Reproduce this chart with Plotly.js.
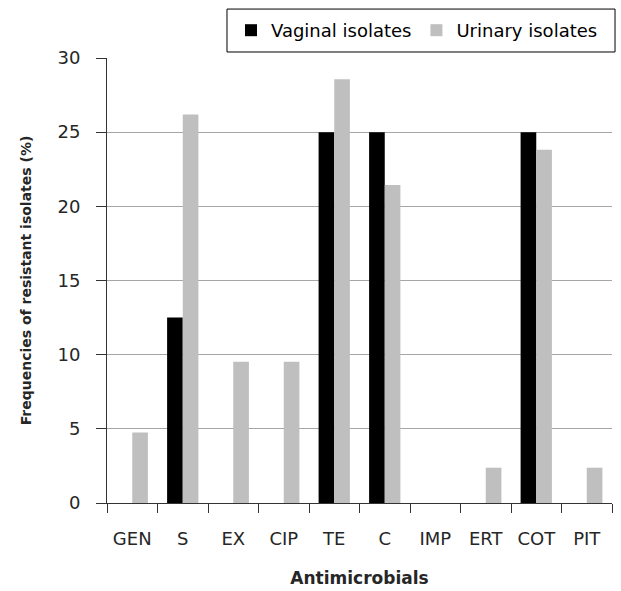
<!DOCTYPE html>
<html>
<head>
<meta charset="utf-8">
<script src="https://cdn.plot.ly/plotly-3.0.1.min.js"></script>
<style>html,body{margin:0;padding:0;background:#fff;}#chart{width:621px;height:591px;}</style>
</head>
<body>
<div id="chart"></div>
<script>
// Data
var antimicrobials = ["GEN", "S", "EX", "CIP", "TE", "C", "IMP", "ERT", "COT", "PIT"];
var vaginalIsolates = [0, 12.5, 0, 0, 25, 25, 0, 0, 25, 0];
var urinaryIsolates = [4.76, 26.19, 9.52, 9.52, 28.57, 21.43, 0, 2.38, 23.81, 2.38];
var yTicks = [0, 5, 10, 15, 20, 25, 30];

var font = "DejaVu Sans, Verdana, sans-serif";

var traces = [
  {type: "bar", name: "Vaginal isolates", x: antimicrobials, y: vaginalIsolates,
   marker: {color: "#000000"}},
  {type: "bar", name: "Urinary isolates", x: antimicrobials, y: urinaryIsolates,
   marker: {color: "#bfbfbf"}}
];

var layout = {
  width: 621, height: 591,
  margin: {l: 107, r: 9, t: 58, b: 88},
  paper_bgcolor: "#ffffff", plot_bgcolor: "#ffffff",
  barmode: "group", bargap: 0.38, bargroupgap: 0,
  font: {family: font, size: 16, color: "#262626"},
  xaxis: {
    type: "category",
    tickson: "boundaries",
    ticks: "outside", ticklen: 9, tickcolor: "#333333",
    showline: true, linecolor: "#333333", linewidth: 1,
    showgrid: false, zeroline: false,
    tickfont: {family: font, size: 18, color: "#262626"},
    ticklabelstandoff: 19,
    title: {text: "<b>Antimicrobials</b>", font: {family: font, size: 17, color: "#262626"}, standoff: 24}
  },
  yaxis: {
    range: [0, 30], tickvals: yTicks, ticktext: yTicks.map(String),
    ticks: "outside", ticklen: 10, tickcolor: "#333333",
    showline: true, linecolor: "#333333", linewidth: 1,
    showgrid: true, gridcolor: "#a6a6a6", gridwidth: 1,
    zeroline: false,
    tickfont: {family: font, size: 18, color: "#262626"},
    ticklabelstandoff: 12,
    title: {text: "<b>Frequencies of resistant isolates (%)</b>", font: {family: font, size: 14, color: "#262626"}, standoff: 22}
  },
  showlegend: true,
  legend: {
    orientation: "h", x: 0.2455, xanchor: "left", y: 1.0618, yanchor: "middle",
    font: {family: font, size: 18, color: "#000000"},
    bgcolor: "rgba(0,0,0,0)", borderwidth: 0, traceorder: "normal"
  },
  shapes: [{
    type: "rect", xref: "paper", yref: "paper",
    x0: 0.2376, x1: 1.006, y0: 1.0135, y1: 1.110,
    line: {color: "#000000", width: 1}, fillcolor: "rgba(0,0,0,0)"
  }]
};

Plotly.newPlot("chart", traces, layout, {displayModeBar: false, staticPlot: true});
</script>
</body>
</html>
